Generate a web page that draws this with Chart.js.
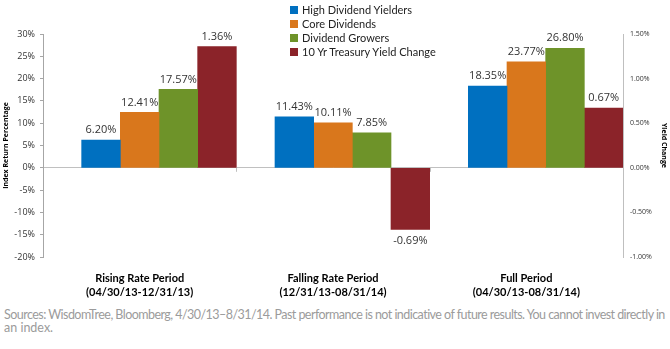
<!DOCTYPE html>
<html>
<head>
<meta charset="utf-8">
<script src="https://cdn.jsdelivr.net/npm/chart.js@4.4.1/dist/chart.umd.min.js"></script>
<style>
    body { margin: 0; background: #fff; width: 670px; height: 349px; position: relative; overflow: hidden; }
    #chart-wrap { position: absolute; left: 0; top: 0; width: 670px; height: 300px; }
    #legend { position: absolute; left: 290px; top: 3px; font-family: Lato, sans-serif; font-size: 11px; color: #222; }
    #legend .item { height: 14px; line-height: 14px; white-space: nowrap; }
    #legend .box { display: inline-block; width: 8px; height: 8px; margin-right: 4px; vertical-align: -0px; }
    #source { position: absolute; left: 4px; top: 308px; width: 666px; font-family: Lato, sans-serif; font-size: 12.5px; line-height: 13px; color: #9b9b9b; white-space: nowrap; }
</style>
</head>
<body>
<div id="chart-wrap"><canvas id="chart"></canvas></div>
<div id="legend"></div>
<div id="source"><span id="src1">Sources: WisdomTree, Bloomberg, 4/30/13–8/31/14. Past performance is not indicative of future results. You cannot invest directly in</span><br>an index.</div>
<script>
const periods = [
    ['Rising Rate Period', '(04/30/13-12/31/13)'],
    ['Falling Rate Period', '(12/31/13-08/31/14)'],
    ['Full Period', '(04/30/13-08/31/14)']
];
const highDividendYielders = [6.20, 11.43, 18.35];
const coreDividends = [12.41, 10.11, 23.77];
const dividendGrowers = [17.57, 7.85, 26.80];
const treasuryYieldChange = [1.36, -0.69, 0.67];

const returnTicks = [-20, -15, -10, -5, 0, 5, 10, 15, 20, 25, 30];
const yieldTicks = [-1.0, -0.5, 0, 0.5, 1.0, 1.5];

const seriesNames = ['High Dividend Yielders', 'Core Dividends', 'Dividend Growers', '10 Yr Treasury Yield Change'];
const seriesColors = ['#0070c0', '#d9771c', '#6e9329', '#8b2329'];

// empty slot so each group sits to the right like the Excel layout
const spacer = [null, null, null];

const labelFont = "11px 'Open Sans', sans-serif";

const barLabels = {
    id: 'barLabels',
    afterDatasetsDraw(chart) {
        const ctx = chart.ctx;
        ctx.save();
        ctx.font = labelFont;
        ctx.fillStyle = '#333';
        ctx.textAlign = 'center';
        ctx.textBaseline = 'middle';
        chart.data.datasets.forEach(function(ds, i) {
            if (ds.spacer) return;
            const meta = chart.getDatasetMeta(i);
            meta.data.forEach(function(bar, j) {
                const v = ds.data[j];
                if (v === null) return;
                const y = v >= 0 ? bar.y - 10 : bar.y + 12;
                ctx.fillText(v.toFixed(2) + '%', bar.x, y);
            });
        });
        // small category ticks on the zero line
        const x = chart.scales.x;
        const y0 = chart.scales.y.getPixelForValue(0);
        const w = (x.right - x.left) / periods.length;
        ctx.strokeStyle = '#bfbfbf';
        ctx.lineWidth = 1;
        for (let k = 1; k < periods.length; k++) {
            const px = Math.round(x.left + k * w) + 0.5;
            ctx.beginPath();
            ctx.moveTo(px, y0);
            ctx.lineTo(px, y0 + 4);
            ctx.stroke();
        }
        ctx.restore();
    }
};

const ctx = document.getElementById('chart').getContext('2d');
const chart = new Chart(ctx, {
    type: 'bar',
    data: {
        labels: periods,
        datasets: [
            { label: '', data: spacer, spacer: true, yAxisID: 'y' },
            { label: seriesNames[0], data: highDividendYielders, backgroundColor: seriesColors[0], yAxisID: 'y' },
            { label: seriesNames[1], data: coreDividends, backgroundColor: seriesColors[1], yAxisID: 'y' },
            { label: seriesNames[2], data: dividendGrowers, backgroundColor: seriesColors[2], yAxisID: 'y' },
            { label: seriesNames[3], data: treasuryYieldChange, backgroundColor: seriesColors[3], yAxisID: 'y1' }
        ]
    },
    options: {
        responsive: true,
        maintainAspectRatio: false,
        animation: false,
        datasets: {
            bar: { categoryPercentage: 1, barPercentage: 1 }
        },
        layout: { padding: { top: 34, left: 0, right: 0, bottom: 0 } },
        plugins: {
            legend: { display: false },
            tooltip: { enabled: false }
        },
        scales: {
            x: {
                grid: { display: false },
                border: { display: false },
                ticks: {
                    color: '#000',
                    padding: 6,
                    font: { family: 'Lato', size: 11, weight: 'bold', lineHeight: 1.3 },
                    maxRotation: 0
                },
                afterFit: function(scale) { scale.height = 43; }
            },
            y: {
                position: 'left',
                min: -20,
                max: 30,
                afterBuildTicks: function(scale) {
                    scale.ticks = returnTicks.map(function(v) { return { value: v }; });
                },
                grid: {
                    color: function(c) { return c.tick && c.tick.value === 0 ? '#c0c0c0' : 'rgba(0,0,0,0)'; },
                    tickColor: '#a6a6a6',
                    tickLength: 3,
                    lineWidth: 1
                },
                border: { color: '#a6a6a6' },
                ticks: {
                    color: '#333',
                    padding: 5,
                    font: { family: 'Open Sans', size: 9 },
                    callback: function(v) { return v + '%'; }
                },
                title: {
                    display: true,
                    text: 'Index Return Percentage',
                    color: '#000',
                    padding: { top: 2, bottom: 2 },
                    font: { family: 'Open Sans', size: 7, weight: 'bold' }
                },
                afterFit: function(scale) { scale.width = 43; }
            },
            y1: {
                position: 'right',
                min: -1,
                max: 1.5,
                afterBuildTicks: function(scale) {
                    scale.ticks = yieldTicks.map(function(v) { return { value: v }; });
                },
                grid: { drawOnChartArea: false, drawTicks: false },
                border: { color: '#bfbfbf' },
                ticks: {
                    color: '#333',
                    padding: 7,
                    font: { family: 'Open Sans', size: 7 },
                    callback: function(v) { return v.toFixed(2) + '%'; }
                },
                title: {
                    display: true,
                    text: 'Yield Change',
                    color: '#000',
                    padding: { top: 2, bottom: 2 },
                    font: { family: 'Open Sans', size: 7, weight: 'bold' }
                },
                afterFit: function(scale) { scale.width = 47; }
            }
        }
    },
    plugins: [barLabels]
});

// legend drawn as html so it can sit over the plot
const legend = document.getElementById('legend');
seriesNames.forEach(function(name, i) {
    const item = document.createElement('div');
    item.className = 'item';
    item.innerHTML = '<span class="box" style="background:' + seriesColors[i] + '"></span>' + name;
    legend.appendChild(item);
});

// squeeze the first source line so it ends near the right edge like the original
const src1 = document.getElementById('src1');
const w = src1.getBoundingClientRect().width;
const chars = src1.textContent.length;
src1.style.letterSpacing = ((661 - w) / chars) + 'px';
</script>
</body>
</html>
